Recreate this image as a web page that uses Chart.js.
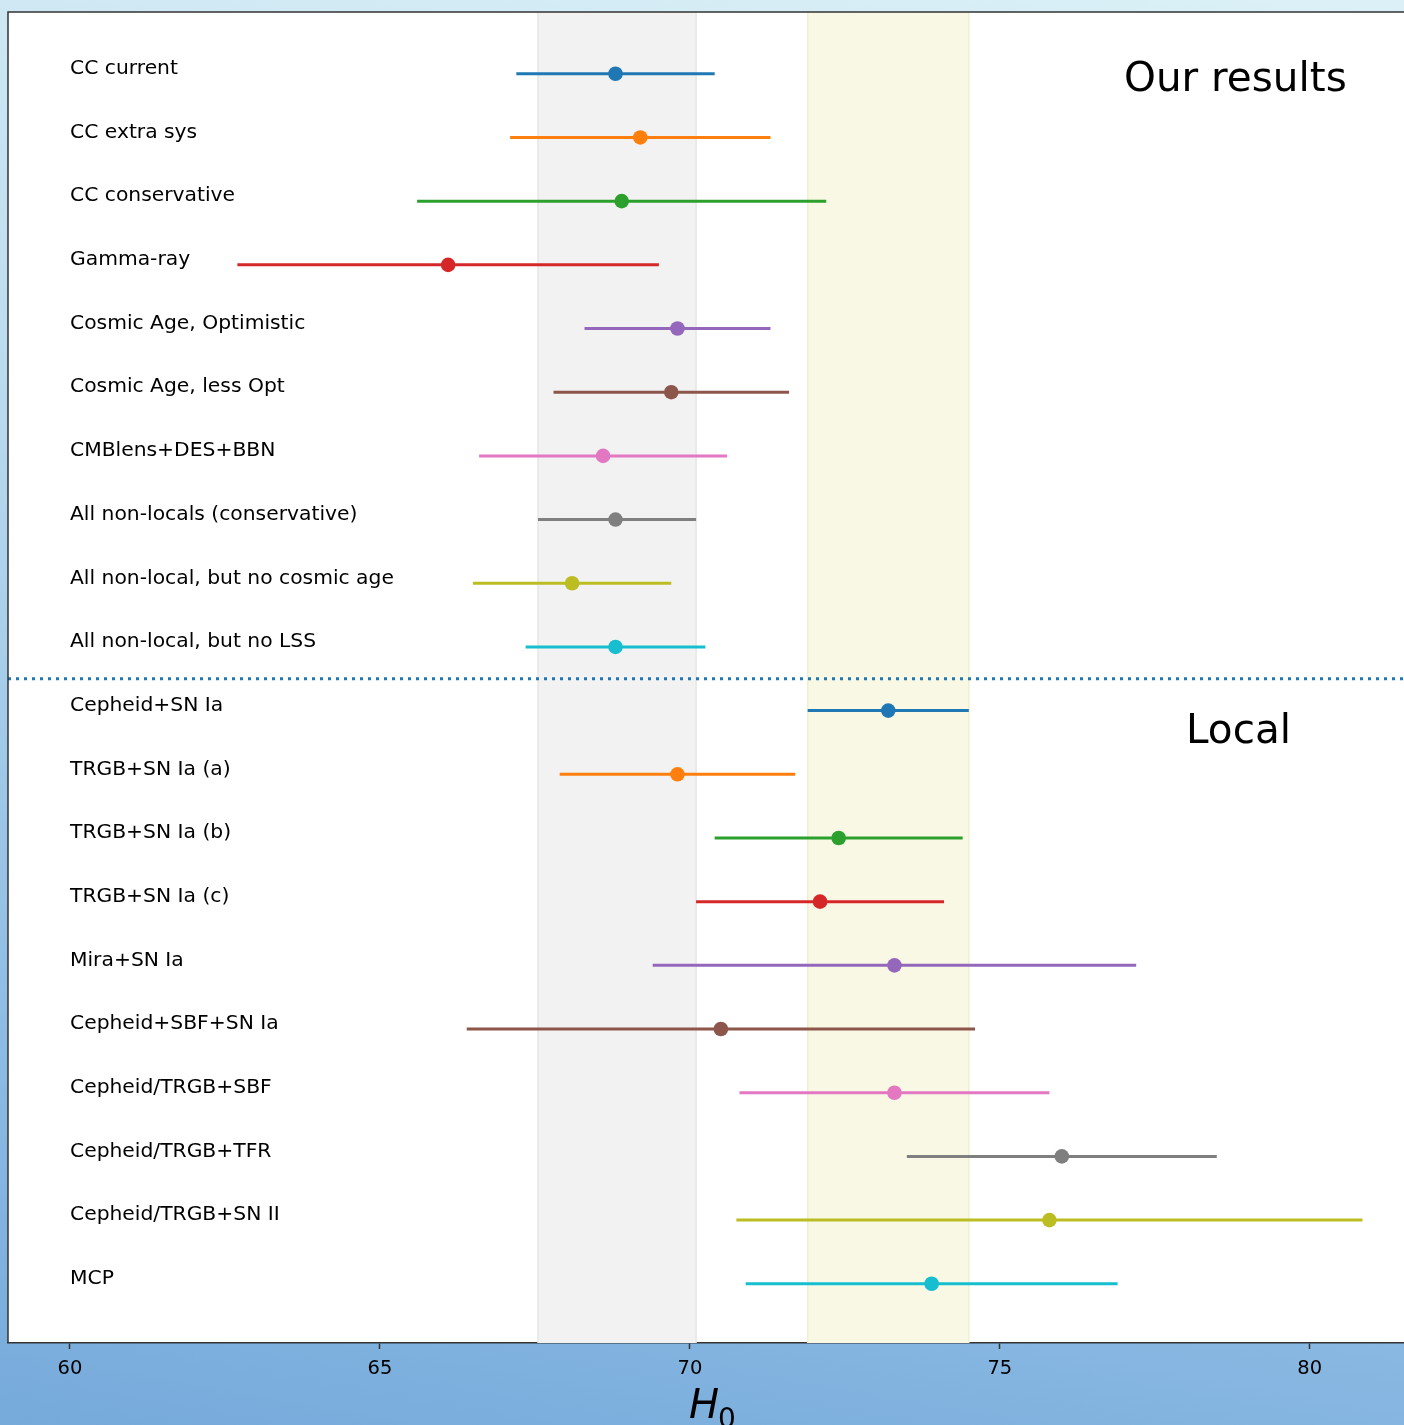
<!DOCTYPE html>
<html>
<head>
<meta charset="utf-8">
<script src="https://cdn.jsdelivr.net/npm/chart.js@4/dist/chart.umd.min.js"></script>
<style>
  html, body { margin: 0; padding: 0; }
  body {
    width: 1404px; height: 1425px; overflow: hidden;
    background: linear-gradient(190deg, #dcf1f7 0%, #b8d9ee 40%, #8fbde4 75%, #76aadb 100%);
  }
  canvas { display: block; }
</style>
</head>
<body>
<canvas id="c" width="1404" height="1425"></canvas>
<script>
// Hubble constant measurements, top to bottom
const labels = [
  'CC current', 'CC extra sys', 'CC conservative', 'Gamma-ray',
  'Cosmic Age, Optimistic', 'Cosmic Age, less Opt', 'CMBlens+DES+BBN',
  'All non-locals (conservative)', 'All non-local, but no cosmic age', 'All non-local, but no LSS',
  'Cepheid+SN Ia', 'TRGB+SN Ia (a)', 'TRGB+SN Ia (b)', 'TRGB+SN Ia (c)', 'Mira+SN Ia',
  'Cepheid+SBF+SN Ia', 'Cepheid/TRGB+SBF', 'Cepheid/TRGB+TFR', 'Cepheid/TRGB+SN II', 'MCP'
];
const h0 =    [68.8, 69.2, 68.9, 66.1, 69.8, 69.7, 68.6, 68.8, 68.1, 68.8,
               73.2, 69.8, 72.4, 72.1, 73.3, 70.5, 73.3, 76.0, 75.8, 73.9];
const lower = [67.2, 67.1, 65.6, 62.7, 68.3, 67.8, 66.6, 67.55, 66.5, 67.35,
               71.9, 67.9, 70.4, 70.1, 69.4, 66.4, 70.8, 73.5, 70.75, 70.9];
const upper = [70.4, 71.3, 72.2, 69.5, 71.3, 71.6, 70.6, 70.1, 69.7, 70.25,
               74.5, 71.7, 74.4, 74.1, 77.2, 74.6, 75.8, 78.5, 80.85, 76.9];
const colors = ['#1f77b4', '#ff7f0e', '#2ca02c', '#d62728', '#9467bd',
                '#8c564b', '#e377c2', '#7f7f7f', '#bcbd22', '#17becf'];
const xTicks = [60, 65, 70, 75, 80];
const xMin = 59, xMax = 81.52;
// shaded reference ranges
const greyBand = [67.55, 70.1];
const yellowBand = [71.9, 74.5];
const separatorY = 9.5;
const sectionTitles = [{ text: 'Our results', x: 78.8, y: 0.1 }, { text: 'Local', x: 78.85, y: 10.35 }];

const datasets = [];
labels.forEach((name, i) => {
  datasets.push({
    type: 'line',
    data: [{ x: lower[i], y: i }, { x: upper[i], y: i }],
    borderColor: colors[i % 10],
    borderWidth: 3,
    pointRadius: 0,
    fill: false,
    order: 2
  });
});
datasets.push({
  type: 'scatter',
  data: h0.map((v, i) => ({ x: v, y: i })),
  backgroundColor: h0.map((v, i) => colors[i % 10]),
  borderWidth: 0,
  pointRadius: 7.3,
  order: 1
});
datasets.push({
  type: 'line',
  data: [{ x: xMin, y: separatorY }, { x: xMax, y: separatorY }],
  borderColor: '#1f77b4',
  borderWidth: 3,
  borderDash: [3, 5],
  pointRadius: 0,
  fill: false,
  order: 3
});

const decor = {
  id: 'decor',
  beforeDraw(chart) {
    const { ctx, chartArea: a } = chart;
    ctx.save();
    ctx.fillStyle = '#ffffff';
    ctx.fillRect(a.left, a.top, a.right - a.left, a.bottom - a.top);
    ctx.restore();
  },
  beforeDatasetsDraw(chart) {
    const { ctx, chartArea: a, scales: { x } } = chart;
    ctx.save();
    const band = (r, fill, edge) => {
      const x0 = x.getPixelForValue(r[0]), x1 = x.getPixelForValue(r[1]);
      ctx.fillStyle = fill;
      ctx.fillRect(x0, a.top, x1 - x0, a.bottom - a.top);
      ctx.strokeStyle = edge;
      ctx.lineWidth = 1.5;
      ctx.beginPath();
      ctx.moveTo(x0, a.top); ctx.lineTo(x0, a.bottom);
      ctx.moveTo(x1, a.top); ctx.lineTo(x1, a.bottom);
      ctx.stroke();
    };
    band(greyBand, '#f2f2f2', '#e6e6e6');
    band(yellowBand, '#f8f8e4', '#efefd2');
    ctx.restore();
  },
  afterDatasetsDraw(chart) {
    const { ctx, chartArea: a, scales: { x, y } } = chart;
    ctx.save();
    ctx.fillStyle = '#000';
    ctx.font = '20.3px "DejaVu Sans"';
    ctx.textAlign = 'left';
    ctx.textBaseline = 'middle';
    labels.forEach((name, i) => {
      ctx.fillText(name, x.getPixelForValue(60), y.getPixelForValue(i) - 5);
    });
    ctx.font = '40.5px "DejaVu Sans"';
    ctx.textAlign = 'center';
    sectionTitles.forEach(t => {
      ctx.fillText(t.text, x.getPixelForValue(t.x), y.getPixelForValue(t.y));
    });
    // frame: left and top spines
    ctx.strokeStyle = '#333';
    ctx.lineWidth = 1.5;
    ctx.beginPath();
    ctx.moveTo(a.left, a.bottom); ctx.lineTo(a.left, a.top); ctx.lineTo(a.right, a.top);
    ctx.stroke();
    ctx.restore();
  },
  afterDraw(chart) {
    const { ctx } = chart;
    ctx.save();
    ctx.fillStyle = '#000';
    ctx.textBaseline = 'alphabetic';
    ctx.textAlign = 'left';
    const cx = 689;
    ctx.font = 'italic 40px "DejaVu Sans"';
    ctx.fillText('H', cx, 1418);
    const w = ctx.measureText('H').width;
    ctx.font = '28px "DejaVu Sans"';
    ctx.fillText('0', cx + w - 1, 1428);
    ctx.restore();
  }
};

new Chart(document.getElementById('c'), {
  type: 'scatter',
  data: { datasets },
  options: {
    responsive: false,
    animation: false,
    devicePixelRatio: 1,
    layout: { autoPadding: false, padding: { left: 8, top: 12, right: 0, bottom: 0 } },
    plugins: { legend: { display: false }, tooltip: { enabled: false } },
    scales: {
      x: {
        type: 'linear',
        min: xMin, max: xMax,
        afterBuildTicks(scale) { scale.ticks = xTicks.map(v => ({ value: v })); },
        afterFit(scale) { scale.height = 82; },
        grid: { display: true, drawOnChartArea: false, drawTicks: true, tickLength: 6, tickColor: '#333', tickWidth: 1.5 },
        border: { display: true, color: '#333', width: 1.5 },
        ticks: { color: '#000', font: { family: 'DejaVu Sans', size: 19.5 }, padding: 8, maxRotation: 0 }
      },
      y: {
        type: 'linear',
        display: false,
        reverse: true,
        min: -0.97, max: 19.93
      }
    }
  },
  plugins: [decor]
});
</script>
</body>
</html>
